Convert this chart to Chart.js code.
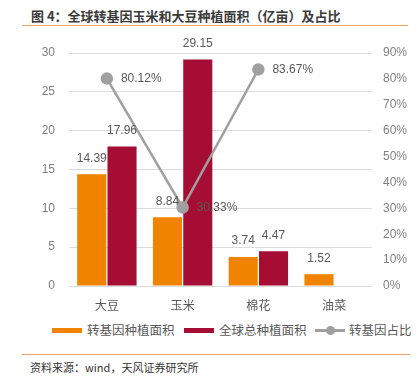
<!DOCTYPE html>
<html>
<head>
<meta charset="utf-8">
<script src="https://cdn.jsdelivr.net/npm/chart.js@4"></script>
<style>
  body { margin: 0; width: 420px; height: 376px; background: #fff; position: relative; overflow: hidden;
         font-family: "Noto Sans CJK SC", "Liberation Sans", sans-serif; }
  .title { position: absolute; left: 31px; top: 6px; font-size: 13px; font-weight: bold; color: #3a3a3a; white-space: nowrap; }
  .rule { position: absolute; left: 22px; width: 386px; height: 1px; background: #f4a460; }
  #wrap { position: absolute; left: 0; top: 30px; width: 420px; height: 285px; }
  .lg { position: absolute; top: 321px; font-size: 12.5px; color: #595959; white-space: nowrap; line-height: 18px; }
  .sw { position: absolute; top: 328px; width: 30px; height: 5px; }
  .src { position: absolute; left: 30px; top: 359px; font-size: 11px; color: #333; white-space: nowrap; }
</style>
</head>
<body>
<div class="title">图 4：全球转基因玉米和大豆种植面积（亿亩）及占比</div>
<div class="rule" style="top:25px"></div>
<div id="wrap"><canvas id="c"></canvas></div>

<div class="sw" style="left:52px;background:#F08300"></div>
<div class="lg" style="left:87px">转基因种植面积</div>
<div class="sw" style="left:184px;background:#A50D35"></div>
<div class="lg" style="left:219px">全球总种植面积</div>
<div class="sw" style="left:315px;top:329px;height:3px;background:#A0A0A0"></div>
<div style="position:absolute;left:326px;top:326px;width:9px;height:9px;border-radius:50%;background:#A0A0A0"></div>
<div class="lg" style="left:349px">转基因占比</div>

<div class="rule" style="top:354px;width:388px"></div>
<div class="src">资料来源：wind，天风证券研究所</div>

<script>
'use strict';

// ─── Data ────────────────────────────────────────────────────────────────────
const CATEGORIES = ['大豆', '玉米', '棉花', '油菜'];
const GM_AREA    = [14.39, 8.84, 3.74, 1.52];
const TOTAL_AREA = [17.96, 29.15, 4.47, null];
const GM_SHARE   = [0.8012, 0.3033, 0.8367, null];

const ORANGE  = '#F08300';
const CRIMSON = '#A50D35';
const GREY    = '#A0A0A0';
const NUM_FONT = '12px "Liberation Sans", sans-serif';

// ─── Value labels ────────────────────────────────────────────────────────────
const valueLabels = {
  id: 'valueLabels',
  afterDatasetsDraw(chart) {
    const ctx = chart.ctx;
    ctx.save();
    ctx.font = NUM_FONT;
    ctx.fillStyle = '#595959';
    chart.data.datasets.forEach((ds, di) => {
      const meta = chart.getDatasetMeta(di);
      meta.data.forEach((el, i) => {
        const v = ds.data[i];
        if (v === null || v === undefined) return;
        if (ds.type === 'line') {
          ctx.textAlign = 'left'; ctx.textBaseline = 'middle';
          ctx.fillText((v * 100).toFixed(2) + '%', el.x + 14, el.y);
        } else {
          ctx.textAlign = 'center'; ctx.textBaseline = 'middle';
          ctx.fillText(v.toFixed(2), el.x, el.y - 16);
        }
      });
    });
    ctx.restore();
  },
};

new Chart(document.getElementById('c'), {
  data: {
    labels: CATEGORIES,
    datasets: [
      { type: 'line', label: '转基因占比', data: GM_SHARE, yAxisID: 'y1', order: 0,
        borderColor: GREY, backgroundColor: GREY, borderWidth: 2.5,
        pointRadius: 5, pointHoverRadius: 5, spanGaps: false },
      { type: 'bar', label: '转基因种植面积', data: GM_AREA, yAxisID: 'y', order: 1,
        backgroundColor: ORANGE, categoryPercentage: 0.8, barPercentage: 0.96 },
      { type: 'bar', label: '全球总种植面积', data: TOTAL_AREA, yAxisID: 'y', order: 1,
        backgroundColor: CRIMSON, categoryPercentage: 0.8, barPercentage: 0.96 },
    ],
  },
  options: {
    responsive: true,
    maintainAspectRatio: false,
    animation: false,
    layout: { padding: { top: 23, left: 0, right: 0, bottom: 0 } },
    plugins: { legend: { display: false }, tooltip: { enabled: false } },
    scales: {
      x: {
        grid: { display: false },
        border: { display: false },
        ticks: { color: '#595959', font: { size: 12, family: '"Noto Sans CJK SC", sans-serif' }, padding: 4 },
        afterFit: s => { s.height = 29; },
      },
      y: {
        position: 'left', min: 0, max: 30,
        ticks: { stepSize: 5, color: '#808080', font: { size: 12, family: '"Liberation Sans", sans-serif' }, padding: 14 },
        grid: { color: '#DCDCDC', lineWidth: 1, drawTicks: false },
        border: { display: false },
        afterFit: s => { s.width = 69; },
      },
      y1: {
        position: 'right', min: 0, max: 0.9,
        ticks: { stepSize: 0.1, color: '#808080', font: { size: 12, family: '"Liberation Sans", sans-serif' }, padding: 11,
                 callback: v => Math.round(v * 100) + '%' },
        grid: { display: false, drawTicks: false },
        border: { display: false },
        afterFit: s => { s.width = 48; },
      },
    },
  },
  plugins: [valueLabels],
});
</script>
</body>
</html>
